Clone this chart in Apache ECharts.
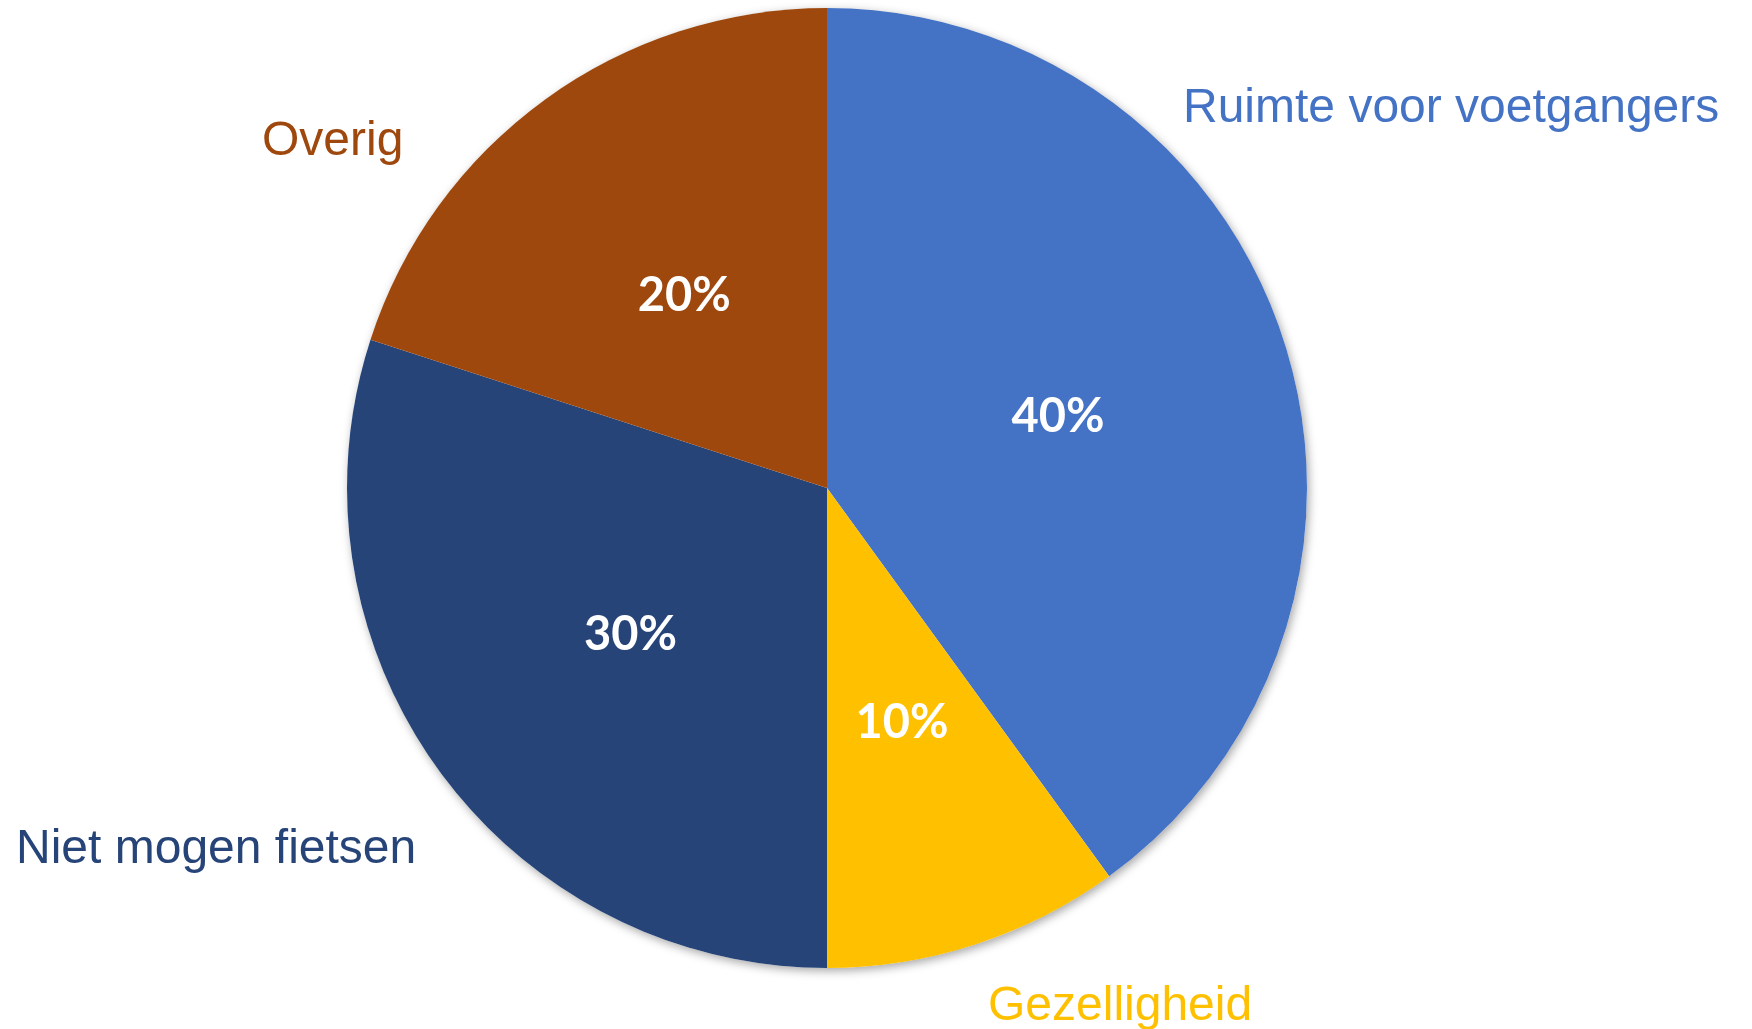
<!DOCTYPE html>
<html>
<head>
<meta charset="utf-8">
<style>
  html, body { margin: 0; padding: 0; background: #fff; }
  #chart { width: 1752px; height: 1029px; }
</style>
<script src="https://cdn.jsdelivr.net/npm/echarts@6/dist/echarts.min.js"></script>
</head>
<body>
<div id="chart"></div>
<script>
const categories = ['Ruimte voor voetgangers', 'Gezelligheid', 'Niet mogen fietsen', 'Overig'];
const values = [40, 10, 30, 20];
const colors = ['#4472C4', '#FFC000', '#264478', '#9E480E'];

// where the category names sit (left edge, vertical middle)
const namePos = [
    { x: 1183, y: 109 },
    { x: 988, y: 1007 },
    { x: 16, y: 850 },
    { x: 262, y: 142 }
];

const center = [827, 488];
const radius = 480;

const data = categories.map((name, i) => ({
    name,
    value: values[i],
    itemStyle: { color: colors[i] }
}));

const chart = echarts.init(document.getElementById('chart'));

chart.setOption({
    animation: false,
    backgroundColor: '#fff',
    series: [
        {
            // soft shadow behind the whole pie
            type: 'pie',
            silent: true,
            center,
            radius,
            z: 1,
            label: { show: false },
            labelLine: { show: false },
            data: [{
                value: 1,
                itemStyle: {
                    color: '#ffffff',
                    shadowBlur: 10,
                    shadowOffsetX: 2,
                    shadowOffsetY: 3,
                    shadowColor: 'rgba(0,0,0,0.35)'
                }
            }]
        },
        {
            type: 'pie',
            center,
            radius,
            startAngle: 90,
            clockwise: true,
            z: 2,
            itemStyle: { borderWidth: 0 },
            label: {
                show: true,
                position: 'inside',
                formatter: p => p.value + '%',
                color: '#fff',
                fontFamily: 'Lato',
                fontWeight: 'bold',
                fontSize: 47,
                offset: [0, 4]
            },
            labelLine: { show: false },
            data
        },
        {
            // category names outside the pie
            type: 'pie',
            silent: true,
            center,
            radius,
            startAngle: 90,
            clockwise: true,
            z: 3,
            itemStyle: { color: 'rgba(0,0,0,0)' },
            label: {
                show: true,
                position: 'outside',
                formatter: '{b}',
                overflow: 'none',
                width: 700,
                fontFamily: 'Liberation Sans, Arial',
                fontSize: 48
            },
            labelLine: { show: false },
            labelLayout: p => ({
                x: namePos[p.dataIndex].x,
                y: namePos[p.dataIndex].y,
                align: 'left',
                verticalAlign: 'middle'
            }),
            data: categories.map((name, i) => ({
                name,
                value: values[i],
                label: { color: colors[i] }
            }))
        }
    ]
});
</script>
</body>
</html>
